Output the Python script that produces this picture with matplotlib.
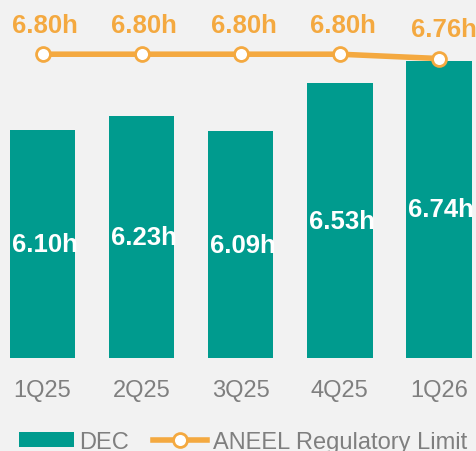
import matplotlib
matplotlib.use("Agg")
import matplotlib.pyplot as plt
from matplotlib.lines import Line2D
from matplotlib.patches import Patch

plt.rcParams['font.family'] = ['Liberation Sans', 'DejaVu Sans']

categories = ["1Q25", "2Q25", "3Q25", "4Q25", "1Q26"]
dec_values = [6.10, 6.23, 6.09, 6.53, 6.74]
limit_values = [6.80, 6.80, 6.80, 6.80, 6.76]
dec_labels = ["6.10h", "6.23h", "6.09h", "6.53h", "6.74h"]
limit_labels = ["6.80h", "6.80h", "6.80h", "6.80h", "6.76h"]

teal = "#009B8E"
orange = "#F4A940"
bg = "#F2F2F2"
gray = "#7F7F7F"

W, H = 477, 452
fig = plt.figure(figsize=(W / 100, H / 100), dpi=100)
fig.patch.set_facecolor(bg)
base_px = 359
ax = fig.add_axes([0, (H - base_px) / H, 1, base_px / H])
ax.set_facecolor(bg)

ymin = 4.0
scale = 108.5
ax.set_ylim(ymin, ymin + base_px / scale)
ax.set_xlim(-0.429, 4.384)

x = list(range(len(categories)))
ax.bar(x, [v - ymin for v in dec_values], bottom=ymin, width=0.66, color=teal, zorder=2)
for xi, v, lab in zip(x, dec_values, dec_labels):
    ax.annotate(lab, (xi, (ymin + v) / 2), xytext=(1.5, 0), textcoords='offset points',
                ha='center', va='center', color='white',
                fontsize=18.5, fontweight='bold', zorder=3)

ax.plot(x, limit_values, color=orange, lw=4, marker='o', ms=10, mfc='white',
        mec=orange, mew=2, zorder=4, solid_capstyle='round')
for i, (xi, v, lab) in enumerate(zip(x, limit_values, limit_labels)):
    dx = 3.5 if i == len(x) - 1 else 2
    ax.annotate(lab, (xi, v), xytext=(dx, 21), textcoords='offset points',
                ha='center', va='center', color=orange, fontsize=18.5,
                fontweight='bold', zorder=5, annotation_clip=False)

ax.set_xticks(x)
ax.set_xticklabels(categories, fontsize=17, color=gray)
ax.tick_params(axis='x', length=0, pad=15)
ax.set_yticks([])
for s in ax.spines.values():
    s.set_visible(False)

handles = [Patch(facecolor=teal, edgecolor='none'),
           Line2D([0], [0], color=orange, lw=4, marker='o', ms=10, mfc='white', mec=orange, mew=2)]
leg = fig.legend(handles, ["DEC", "ANEEL Regulatory Limit"], loc='center',
                 bbox_to_anchor=(0.51, 1 - 443 / H), ncol=2, frameon=False,
                 fontsize=17, handlelength=2.3, handleheight=0.6, handletextpad=0.25,
                 columnspacing=1.0, labelcolor=gray, borderpad=0, borderaxespad=0)

fig.savefig("out.png", dpi=100, facecolor=bg)
